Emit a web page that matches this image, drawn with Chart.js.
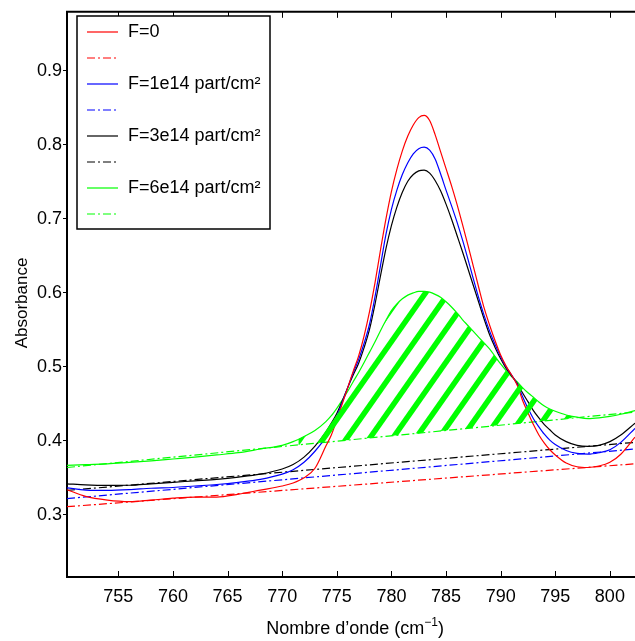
<!DOCTYPE html>
<html>
<head>
<meta charset="utf-8">
<script src="https://cdn.jsdelivr.net/npm/chart.js@4.4.0/dist/chart.umd.min.js"></script>
<style>
  html, body { margin: 0; padding: 0; background: #fff; }
  #wrap { width: 635px; height: 641px; }
</style>
</head>
<body>
<div id="wrap"><canvas id="chart" width="635" height="641"></canvas></div>
<script>
// Wavenumbers (cm-1) shared by the four measured spectra
const wavenumbers = [750.3, 752, 754, 756, 758, 760, 762, 764, 766, 768, 770,
    771, 772, 773, 774,
    774.5, 775, 775.5, 776, 776.5, 777, 777.5, 778, 778.5, 779, 779.5, 780, 780.5, 781,
    781.5, 782, 782.5, 783, 783.5, 784, 784.5, 785, 785.5, 786, 786.5, 787, 787.5, 788,
    788.5, 789, 789.5, 790, 790.5, 791, 791.5, 792, 792.5, 793, 793.5, 794, 794.5, 795,
    796, 797, 798, 799, 800, 801, 802.3];

// Absorbance for each fluence
const absF0 = [0.334, 0.325, 0.320, 0.318, 0.320, 0.3225, 0.324, 0.324, 0.328, 0.3335, 0.339,
    0.343, 0.350, 0.363, 0.393,
    0.408, 0.428, 0.450, 0.472, 0.494, 0.515, 0.542, 0.575, 0.614, 0.658, 0.700, 0.737, 0.767, 0.792,
    0.812, 0.827, 0.837, 0.840, 0.833, 0.814, 0.791, 0.768, 0.745, 0.720, 0.693, 0.665, 0.636, 0.607,
    0.579, 0.556, 0.535, 0.516, 0.501, 0.489, 0.476, 0.455, 0.438, 0.422, 0.408, 0.397, 0.388, 0.381,
    0.370, 0.365, 0.364, 0.366, 0.371, 0.382, 0.405];
const absF1e14 = [0.3365, 0.3335, 0.333, 0.334, 0.336, 0.337, 0.339, 0.341, 0.344, 0.348, 0.355,
    0.361, 0.371, 0.386, 0.405,
    0.418, 0.433, 0.452, 0.472, 0.492, 0.510, 0.532, 0.558, 0.595, 0.637, 0.679, 0.713, 0.739, 0.760,
    0.776, 0.788, 0.795, 0.797, 0.793, 0.781, 0.761, 0.739, 0.718, 0.696, 0.672, 0.646, 0.619, 0.593,
    0.569, 0.548, 0.530, 0.514, 0.500, 0.489, 0.477, 0.460, 0.444, 0.430, 0.419, 0.409, 0.401, 0.395,
    0.387, 0.383, 0.382, 0.384, 0.388, 0.398, 0.417];
const absF3e14 = [0.342, 0.3405, 0.3398, 0.340, 0.342, 0.344, 0.346, 0.348, 0.351, 0.355, 0.362,
    0.368, 0.378, 0.393, 0.412,
    0.424, 0.437, 0.454, 0.472, 0.489, 0.505, 0.526, 0.551, 0.585, 0.623, 0.660, 0.691, 0.716, 0.736,
    0.751, 0.760, 0.765, 0.766, 0.762, 0.752, 0.738, 0.720, 0.700, 0.678, 0.656, 0.633, 0.610, 0.587,
    0.564, 0.543, 0.526, 0.511, 0.498, 0.488, 0.478, 0.465, 0.453, 0.441, 0.431, 0.422, 0.415, 0.408,
    0.399, 0.394, 0.3926, 0.394, 0.399, 0.408, 0.424];
const absF6e14 = [0.367, 0.368, 0.369, 0.371, 0.373, 0.3755, 0.378, 0.381, 0.384, 0.389, 0.394,
    0.399, 0.406, 0.414, 0.426,
    0.434, 0.444, 0.455, 0.467, 0.480, 0.4925, 0.506, 0.520, 0.534, 0.549, 0.563, 0.576, 0.585, 0.592,
    0.597, 0.600, 0.602, 0.602, 0.601, 0.598, 0.594, 0.588, 0.581, 0.573, 0.564, 0.556, 0.548, 0.540,
    0.532, 0.524, 0.514, 0.504, 0.495, 0.487, 0.480, 0.472, 0.465, 0.459, 0.4525, 0.447, 0.443, 0.440,
    0.435, 0.432, 0.430, 0.431, 0.433, 0.436, 0.441];

// Linear baselines (dash-dot), given at both ends of the window
const baseX = [750.3, 802.3];
const baseF0 = [0.311, 0.369];
const baseF1e14 = [0.322, 0.389];
const baseF3e14 = [0.333, 0.398];
const baseF6e14 = [0.364, 0.439];

const seriesLabels = ['F=0', 'F=1e14 part/cm²', 'F=3e14 part/cm²', 'F=6e14 part/cm²'];
const xTickValues = [755, 760, 765, 770, 775, 780, 785, 790, 795, 800];
const yTickValues = [0.3, 0.4, 0.5, 0.6, 0.7, 0.8, 0.9];

// Integrated band of the F=6e14 spectrum (hatched)
const hatchFrom = 771.5;
const hatchTo = 796.6;

const colors = ['#ff0000', '#0000ff', '#000000', '#00ff00'];
const FONT = "'Liberation Sans', Arial, sans-serif";

function toPoints(xs, ys) {
    return xs.map((x, i) => ({ x: x, y: ys[i] }));
}

const spectra = [absF0, absF1e14, absF3e14, absF6e14];
const baselines = [baseF0, baseF1e14, baseF3e14, baseF6e14];

const datasets = [];
spectra.forEach((ys, i) => {
    datasets.push({
        label: seriesLabels[i],
        data: toPoints(wavenumbers, ys),
        borderColor: colors[i],
        borderWidth: 1.2,
        pointRadius: 0,
        cubicInterpolationMode: 'monotone',
        fill: false
    });
    datasets.push({
        label: '',
        data: toPoints(baseX, baselines[i]),
        borderColor: colors[i],
        borderWidth: 1.2,
        borderDash: [8, 3, 2, 3],
        pointRadius: 0,
        fill: false
    });
});

// Hatching between the green spectrum and its baseline
const hatchPlugin = {
    id: 'hatch',
    afterDatasetsDraw(chart) {
        const ctx = chart.ctx;
        const xs = chart.scales.x, ys = chart.scales.y, area = chart.chartArea;
        const curve = chart.getDatasetMeta(6).data;
        const x0 = xs.getPixelForValue(hatchFrom), x1 = xs.getPixelForValue(hatchTo);

        ctx.save();
        ctx.beginPath();
        ctx.rect(x0, area.top, x1 - x0, area.bottom - area.top);
        ctx.clip();
        ctx.beginPath();
        curve.forEach((p, i) => i ? ctx.lineTo(p.x, p.y) : ctx.moveTo(p.x, p.y));
        for (let i = baseX.length - 1; i >= 0; i--) {
            ctx.lineTo(xs.getPixelForValue(baseX[i]), ys.getPixelForValue(baseF6e14[i]));
        }
        ctx.closePath();
        ctx.clip();

        ctx.strokeStyle = '#00ff00';
        ctx.lineWidth = 5.5;
        const ang = 55 * Math.PI / 180;
        const len = 900;
        for (let xk = 249.6 - 23 * 20; xk < area.right + 50; xk += 23) {
            ctx.beginPath();
            ctx.moveTo(xk, area.bottom);
            ctx.lineTo(xk + len * Math.cos(ang), area.bottom - len * Math.sin(ang));
            ctx.stroke();
        }
        ctx.restore();
    }
};

// Top frame, inward x ticks, axis titles and the legend box
const framePlugin = {
    id: 'frame',
    afterDraw(chart) {
        const ctx = chart.ctx, area = chart.chartArea, xs = chart.scales.x;
        ctx.save();
        ctx.strokeStyle = '#000';
        ctx.lineWidth = 2;
        ctx.beginPath();
        ctx.moveTo(area.left - 1, area.top);
        ctx.lineTo(area.right, area.top);
        ctx.stroke();

        ctx.lineWidth = 1;
        xTickValues.forEach(v => {
            const px = Math.round(xs.getPixelForValue(v)) + 0.5;
            ctx.beginPath();
            ctx.moveTo(px, area.bottom);
            ctx.lineTo(px, area.bottom - 6);
            ctx.moveTo(px, area.top);
            ctx.lineTo(px, area.top + 6);
            ctx.stroke();
        });

        // y title
        ctx.fillStyle = '#000';
        ctx.save();
        ctx.translate(22, 303);
        ctx.rotate(-Math.PI / 2);
        ctx.font = '17px ' + FONT;
        ctx.textAlign = 'center';
        ctx.textBaseline = 'middle';
        ctx.fillText('Absorbance', 0, 0);
        ctx.restore();

        // x title with superscript
        const main = 'Nombre d\u2019onde (cm', sup = '\u22121', close = ')';
        ctx.textBaseline = 'alphabetic';
        ctx.textAlign = 'left';
        ctx.font = '18px ' + FONT;
        const w1 = ctx.measureText(main).width, w3 = ctx.measureText(close).width;
        ctx.font = '12px ' + FONT;
        const w2 = ctx.measureText(sup).width;
        let x = 355 - (w1 + w2 + w3) / 2;
        const base = 634;
        ctx.font = '18px ' + FONT;
        ctx.fillText(main, x, base);
        x += w1;
        ctx.font = '12px ' + FONT;
        ctx.fillText(sup, x, base - 8);
        x += w2;
        ctx.font = '18px ' + FONT;
        ctx.fillText(close, x, base);

        // legend
        const lx = 77, ly = 16, lw = 193, lh = 213;
        ctx.fillStyle = '#fff';
        ctx.fillRect(lx, ly, lw, lh);
        ctx.strokeStyle = '#000';
        ctx.lineWidth = 1.5;
        ctx.strokeRect(lx, ly, lw, lh);
        chart.data.datasets.forEach((ds, i) => {
            const y = ly + 16 + i * 26;
            ctx.strokeStyle = ds.borderColor;
            ctx.lineWidth = 1.2;
            ctx.setLineDash(ds.borderDash || []);
            ctx.beginPath();
            ctx.moveTo(lx + 10, y);
            ctx.lineTo(lx + 41, y);
            ctx.stroke();
            ctx.setLineDash([]);
            if (ds.label) {
                ctx.fillStyle = '#000';
                ctx.font = '18px ' + FONT;
                ctx.textBaseline = 'middle';
                ctx.fillText(ds.label, lx + 51, y);
            }
        });
        ctx.restore();
    }
};

new Chart(document.getElementById('chart').getContext('2d'), {
    type: 'line',
    data: { datasets: datasets },
    options: {
        responsive: false,
        animation: false,
        devicePixelRatio: 1,
        layout: { padding: { top: 7, right: 0, left: 0, bottom: 0 } },
        plugins: { legend: { display: false }, tooltip: { enabled: false } },
        scales: {
            x: {
                type: 'linear',
                min: 750.3,
                max: 802.3,
                afterBuildTicks: s => { s.ticks = xTickValues.map(v => ({ value: v })); },
                afterFit: s => { s.height = 64; },
                grid: { drawOnChartArea: false, drawTicks: false },
                border: { color: '#000', width: 2 },
                ticks: {
                    color: '#000',
                    font: { family: FONT, size: 18 },
                    padding: 9,
                    maxRotation: 0,
                    autoSkip: false,
                    callback: v => String(v)
                }
            },
            y: {
                type: 'linear',
                min: 0.216,
                max: 0.98,
                afterBuildTicks: s => { s.ticks = yTickValues.map(v => ({ value: v })); },
                afterFit: s => { s.width = 67; },
                grid: { drawOnChartArea: false, drawTicks: true, tickLength: 4, color: '#000' },
                border: { color: '#000', width: 2 },
                ticks: {
                    color: '#000',
                    font: { family: FONT, size: 18 },
                    padding: 1,
                    callback: v => v.toFixed(1)
                }
            }
        }
    },
    plugins: [hatchPlugin, framePlugin]
});
</script>
</body>
</html>
